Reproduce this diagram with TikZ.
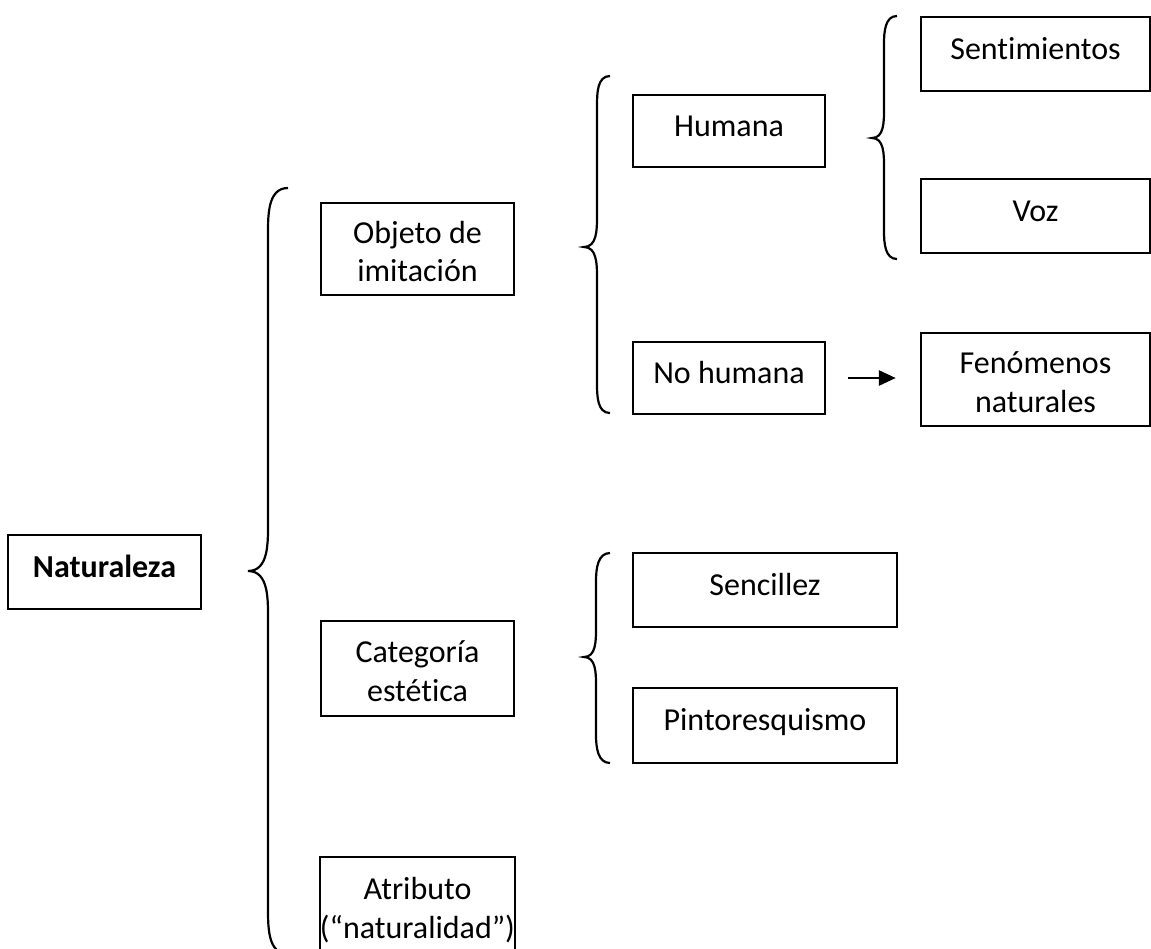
\documentclass[tikz,border=0pt]{standalone}
\usepackage{fontspec}
\setmainfont{Carlito}[Ligatures=NoCommon]
\usetikzlibrary{arrows.meta}
% curly brace: end x, line x, tip x, top y, tip y, bottom y, bend length
\newcommand\drawbrace[7]{%
  \draw[bracepath] (#1,#4) to[out=180,in=90] (#2,#4+#7) -- (#2,#5-#7)
    to[out=-90,in=0] (#3,#5) to[out=0,in=90] (#2,#5+#7) -- (#2,#6-#7)
    to[out=-90,in=180] (#1,#6);}
\begin{document}
\begin{tikzpicture}[x=1pt,y=-1pt,
  txt/.style={font=\fontsize{32}{38.7}\selectfont},
  box/.style={draw, line width=2.4pt, inner sep=0pt, txt, text height=22pt, text depth=12pt},
  box2/.style={draw, line width=2.4pt, inner sep=0pt, txt, align=center},
  bracepath/.style={line width=2.2pt},
  link/.style={line width=2.8pt, -{Triangle[length=17pt,width=15pt]}}]
\useasboundingbox (0,0) rectangle (1151,948);

% boxes
\node[box, minimum width=193pt, minimum height=74pt, font=\fontsize{32}{38.7}\selectfont\bfseries] (nat) at (104.5,572) {Naturaleza};
\node[box2, minimum width=193pt, minimum height=92pt] (obj) at (417.5,249) {\strut Objeto de\\imitación};
\node[box2, minimum width=193pt, minimum height=95pt] (cat) at (417.5,668.5) {\strut Categoría\\estética};
\node[box2, minimum width=193pt, minimum height=101pt] (atr) at (417.5,907.5) {\strut Atributo\\(“naturalidad”)};
\node[box, minimum width=192pt, minimum height=72pt] (hum) at (729,131) {Humana};
\node[box, minimum width=192pt, minimum height=72pt] (noh) at (729,378) {No humana};
\node[box, minimum width=229pt, minimum height=74pt] (sen) at (1035.5,54) {Sentimientos};
\node[box, minimum width=229pt, minimum height=74pt] (voz) at (1035.5,216) {Voz};
\node[box2, minimum width=229pt, minimum height=93pt] (fen) at (1035.5,379.5) {\strut Fenómenos\\naturales};
\node[box, minimum width=264pt, minimum height=74pt] (senc) at (765,590) {Sencillez};
\node[box, minimum width=264pt, minimum height=75pt] (pin) at (765,725.5) {Pintoresquismo};

% braces
\drawbrace{288}{268}{248}{188}{571}{954}{50}
\drawbrace{610}{597}{584}{76}{247}{413}{30}
\drawbrace{897}{884}{872}{16}{138}{259}{28}
\drawbrace{610}{596}{584}{553}{657}{763}{28}

% arrow
\draw[link, shorten <=22pt, shorten >=24pt] (noh.east) -- (noh.east -| fen.west);
\end{tikzpicture}
\end{document}
